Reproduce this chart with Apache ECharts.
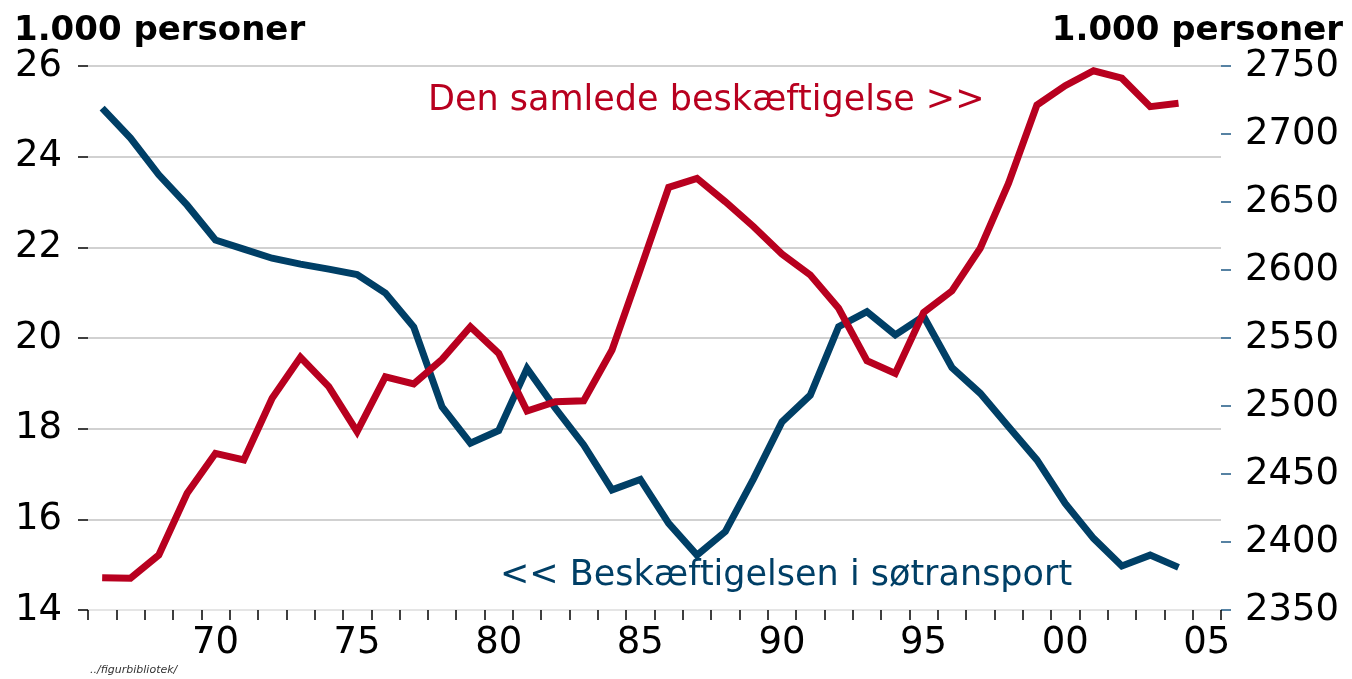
<!DOCTYPE html>
<html>
<head>
<meta charset="utf-8">
<script src="https://cdn.jsdelivr.net/npm/echarts@6/dist/echarts.min.js"></script>
<style>
html,body{margin:0;padding:0;background:#fff;}
#chart{width:1352px;height:679px;}
</style>
</head>
<body>
<div id="chart"></div>
<script>
// Categories (years); 2005 is an empty slot at the right end
const years = ['1966','1967','1968','1969','1970','1971','1972','1973','1974','1975',
  '1976','1977','1978','1979','1980','1981','1982','1983','1984','1985',
  '1986','1987','1988','1989','1990','1991','1992','1993','1994','1995',
  '1996','1997','1998','1999','2000','2001','2002','2003','2004','2005'];

// Beskæftigelsen i søtransport (1.000 personer, left axis)
const soetransport = [25.07,24.41,23.60,22.93,22.16,21.96,21.76,21.63,21.52,21.40,
  20.99,20.24,18.48,17.68,17.96,19.33,18.45,17.64,16.65,16.88,
  15.91,15.21,15.73,16.90,18.15,18.74,20.25,20.58,20.07,20.48,
  19.35,18.78,18.04,17.31,16.35,15.58,14.97,15.21,14.94,null];

// Den samlede beskæftigelse (1.000 personer, right axis)
const samlede = [2373.7,2373.3,2390.4,2435.8,2465.2,2460.3,2505.7,2535.8,2514.2,2481.1,
  2521.5,2516.2,2534.3,2558.3,2538.7,2496.3,2503.2,2503.9,2541.2,2600.5,
  2660.8,2667.4,2650.2,2631.8,2611.8,2596.3,2571.8,2533.3,2524.0,2568.8,
  2584.6,2616.0,2663.8,2721.3,2735.5,2746.5,2741.0,2720.1,2722.6,null];

const leftTicks = {min:14, max:26, interval:2};
const rightTicks = {min:2350, max:2750, interval:50};

const RED = '#b8001f';
const BLUE = '#003f66';
const FONT = 'DejaVu Sans';

const chart = echarts.init(document.getElementById('chart'), null, {renderer:'canvas'});
chart.setOption({
  animation:false,
  backgroundColor:'#ffffff',
  grid:{left:88, right:131, top:66, bottom:69, containLabel:false},
  xAxis:{
    type:'category',
    data:years,
    boundaryGap:true,
    axisLine:{show:true, lineStyle:{color:'#e4e4e4', width:1.5}},
    axisTick:{show:true, interval:0, length:10, lineStyle:{color:'#000', width:1.5}},
    axisLabel:{
      interval:function(i, v){ return (+v) % 5 === 0; },
      formatter:function(v){ return v.slice(2); },
      margin:15, color:'#000', fontFamily:FONT, fontSize:37
    },
    splitLine:{show:false}
  },
  yAxis:[
    {
      type:'value', position:'left',
      min:leftTicks.min, max:leftTicks.max, interval:leftTicks.interval,
      axisLine:{show:false},
      axisTick:{show:true, length:10, lineStyle:{color:'#000', width:1.5}},
      axisLabel:{margin:26, color:'#000', fontFamily:FONT, fontSize:37},
      splitLine:{show:true, lineStyle:{color:['#e4e4e4','#c2c2c2','#c2c2c2','#c2c2c2','#c2c2c2','#c2c2c2','#c2c2c2'], width:1.5}}
    },
    {
      type:'value', position:'right',
      min:rightTicks.min, max:rightTicks.max, interval:rightTicks.interval,
      axisLine:{show:false},
      axisTick:{show:true, length:10, lineStyle:{color:'#1f5a85', width:1.5}},
      axisLabel:{margin:24, color:'#000', fontFamily:FONT, fontSize:37,
        formatter:function(v){ return String(v); }},
      splitLine:{show:false}
    }
  ],
  series:[
    {
      name:'Beskæftigelsen i søtransport', type:'line', yAxisIndex:0,
      data:soetransport, showSymbol:false, symbol:'none',
      lineStyle:{color:BLUE, width:7, join:'miter'}, z:3
    },
    {
      name:'Den samlede beskæftigelse', type:'line', yAxisIndex:1,
      data:samlede, showSymbol:false, symbol:'none',
      lineStyle:{color:RED, width:7, join:'miter'}, z:4
    }
  ],
  graphic:[
    {type:'text', left:14, top:14, style:{text:'1.000 personer', fill:'#000', font:'bold 34px "DejaVu Sans"'}},
    {type:'text', right:9, top:14, style:{text:'1.000 personer', fill:'#000', font:'bold 34px "DejaVu Sans"'}},
    {type:'text', left:428, top:83, style:{text:'Den samlede beskæftigelse >>', fill:RED, font:'35px "DejaVu Sans"'}},
    {type:'text', left:500, top:558, style:{text:'<< Beskæftigelsen i søtransport', fill:BLUE, font:'35px "DejaVu Sans"'}},
    {type:'text', left:90, top:665, style:{text:'../figurbibliotek/', fill:'#333', font:'italic 11px "DejaVu Sans"'}}
  ]
});
</script>
</body>
</html>
